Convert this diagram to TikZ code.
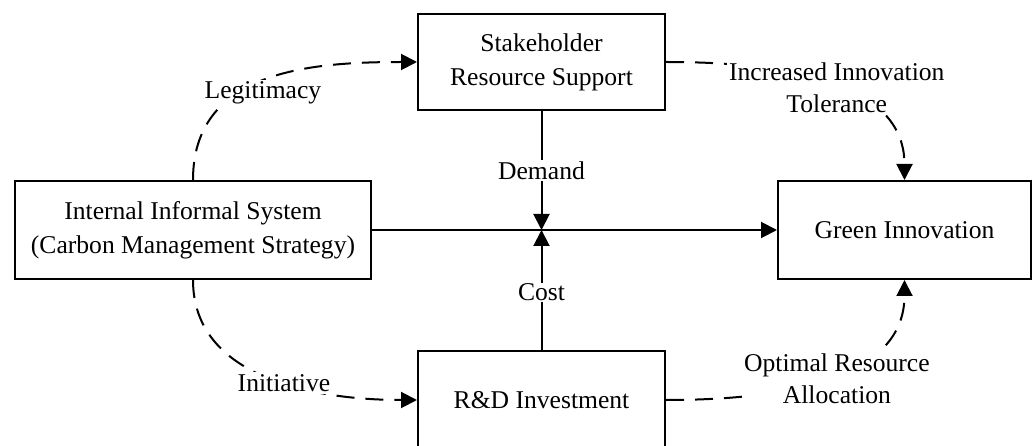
\documentclass[tikz,border=0pt]{standalone}
\usepackage{fontspec}
\setmainfont{Liberation Serif}
\usetikzlibrary{arrows.meta}
\begin{document}
\begin{tikzpicture}[x=1pt,y=-1pt,
  box/.style={draw,line width=2pt,align=center,inner sep=0pt,font=\fontsize{25.6}{34}\selectfont},
  lbl/.style={fill=white,align=center,inner sep=2pt,font=\fontsize{25.6}{32}\selectfont},
  arr/.style={line width=2pt,-{Triangle[length=16pt,width=16pt]}},
  dsh/.style={arr,dash pattern=on 18pt off 11pt}]
\useasboundingbox (0,0) rectangle (1036,446);
\node[box,minimum width=356pt,minimum height=98pt] (I) at (193,230) {Internal Informal System\\(Carbon Management Strategy)};
\node[box,minimum width=247pt,minimum height=96pt] (S) at (541.5,62) {Stakeholder\\Resource Support};
\node[box,minimum width=253pt,minimum height=98pt] (G) at (904.5,230) {Green Innovation};
\node[box,minimum width=247pt,minimum height=98pt] (R) at (541.5,400) {R\&D Investment};
\coordinate (X) at (S.south |- I.east);
\draw[arr] (I.east) -- (G.west);
\draw[arr] (S.south) -- node[lbl,pos=0.5,inner sep=1pt] {Demand} (X);
\draw[arr] (R.north) -- node[lbl,pos=0.48,inner sep=1pt] {Cost} (X);
\draw[dsh] (I.north) to[out=90,in=180,looseness=1.1] node[lbl,pos=0.42,xshift=18pt,yshift=-4pt] {Legitimacy} (S.west);
\draw[dsh] (I.south) to[out=-90,in=180] node[lbl,pos=0.56] {Initiative} (R.west);
\draw[dsh] (S.east) to[out=0,in=90] node[lbl,pos=0.52,xshift=7pt,yshift=-4pt] {Increased Innovation\\Tolerance} (G.north);
\draw[dsh] (R.east) to[out=0,in=-90] node[lbl,pos=0.52,xshift=7pt,yshift=-2pt] {Optimal Resource\\Allocation} (G.south);
\end{tikzpicture}
\end{document}
